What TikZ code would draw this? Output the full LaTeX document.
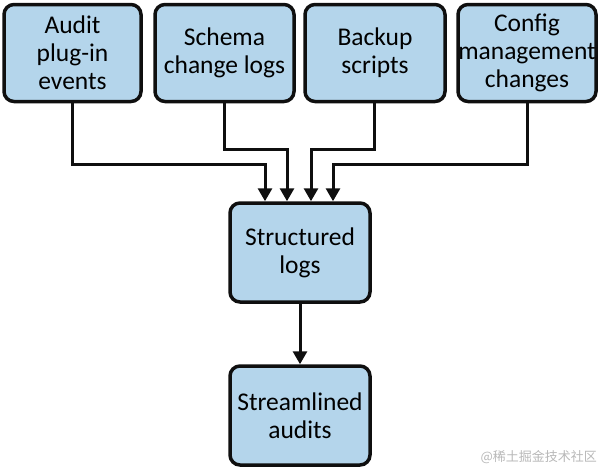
\documentclass[tikz,border=0pt]{standalone}
\usepackage{fontspec}
\setmainfont{Carlito}
\newfontfamily\cjkfont{Noto Sans CJK SC}
\usetikzlibrary{arrows.meta}
\definecolor{boxfill}{RGB}{180,213,235}
\definecolor{boxline}{RGB}{15,15,15}
\tikzset{
  box/.style={draw=boxline, fill=boxfill, line width=3.5pt, rounded corners=10pt,
    align=center, inner sep=0pt, font=\fontsize{25.5}{28}\selectfont},
  topbox/.style={box, minimum height=97pt},
  arr/.style={draw=boxline, line width=3pt, -{Triangle[width=14pt,length=13pt]}},
}
\begin{document}
\begin{tikzpicture}[x=1pt,y=-1pt]
\useasboundingbox (0,0) rectangle (600,469);
\node[topbox, minimum width=137pt] (a) at (72.5,53) {Audit\\plug-in\\events};
\node[topbox, minimum width=139pt] (b) at (224.5,53) {Schema\\change logs};
\node[topbox, minimum width=140pt] (c) at (375,53) {Backup\\scripts};
\node[topbox, minimum width=138pt] (d) at (527,53) {Config\\management\\changes};
\node[box, minimum width=140pt, minimum height=99pt] (s) at (300,252.5) {Structured\\logs};
\node[box, minimum width=140pt, minimum height=99pt] (t) at (300,415.5) {Streamlined\\audits};
\coordinate (ya) at (0,164);
\coordinate (yb) at (0,149);
\draw[arr] (a.south -| 72,0) |- (ya -| 265,0) -- ([xshift=-35pt]s.north);
\draw[arr] (b.south -| 224,0) |- (yb -| 287,0) -- ([xshift=-13pt]s.north);
\draw[arr] (c.south -| 374,0) |- (yb -| 311,0) -- ([xshift=11pt]s.north);
\draw[arr] (d.south) |- (ya -| 333,0) -- ([xshift=33pt]s.north);
\draw[arr] (s) -- (t);
\node[anchor=east, text=black!28, font=\cjkfont\fontsize{13}{13}\selectfont, inner sep=0pt] (wm) at (597,457) {@稀土掘金技术社区};
\end{tikzpicture}
\end{document}
